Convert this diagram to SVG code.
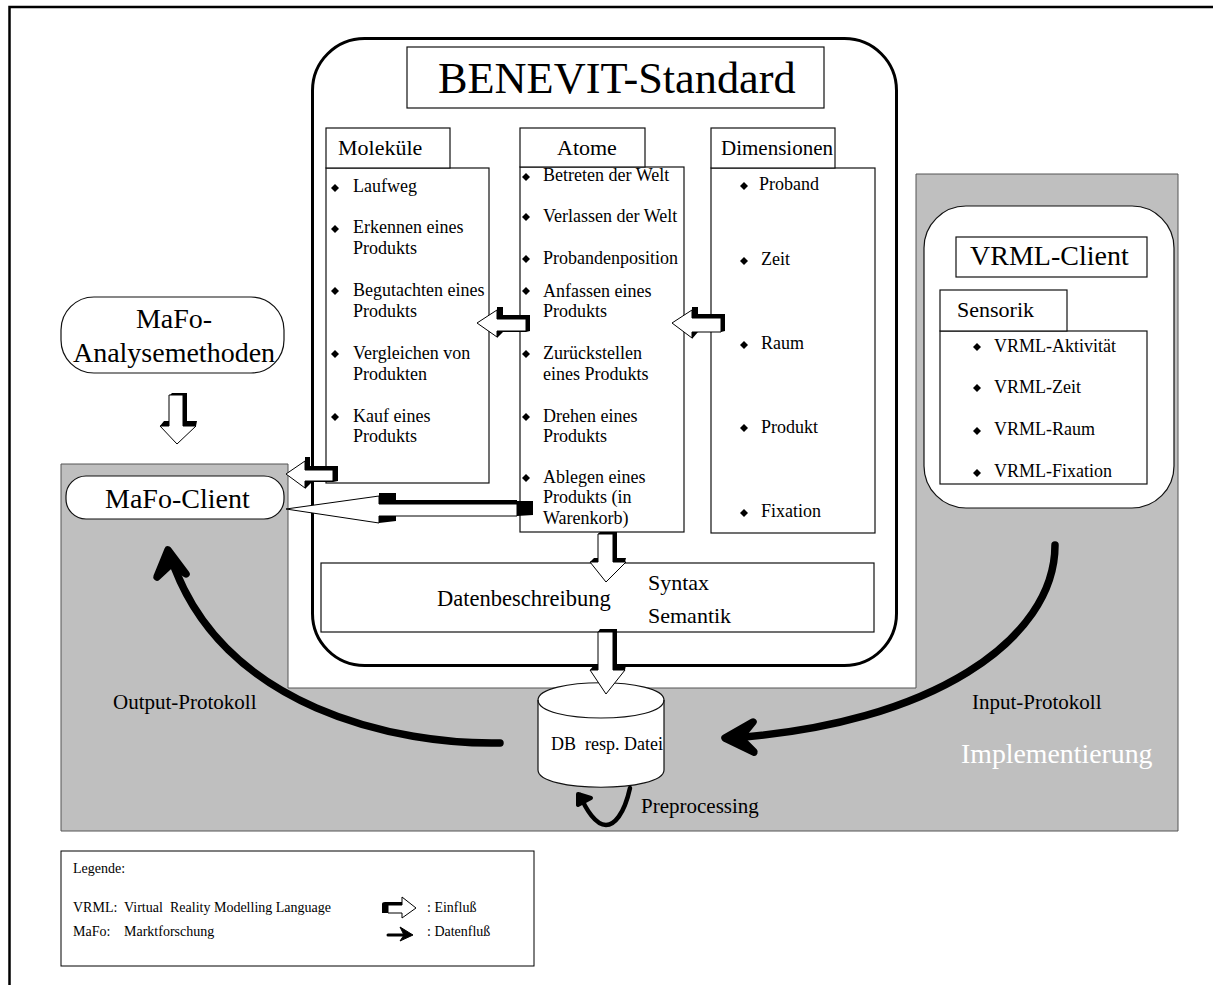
<svg xmlns="http://www.w3.org/2000/svg" width="1213" height="985" viewBox="0 0 1213 985">
<style>
text{font-family:"Liberation Serif","Times New Roman",serif;fill:#000}
.b{fill:#fff;stroke:#111;stroke-width:1.2}
.t18{font-size:18px}.t22{font-size:22px}.t28{font-size:28px}.t21{font-size:21px}.t14{font-size:14px}
.flow{fill:none;stroke:#000;stroke-linecap:round;stroke-linejoin:round}
.sh{fill:#000;stroke:none}
.ar{fill:#fff;stroke:#000;stroke-width:1}
</style>
<defs>
<path id="dm" d="M0-4L4 0L0 4L-4 0Z"/>
</defs>
<rect width="1213" height="985" fill="#fff"/>
<path id="frame" d="M9.500 985V7H1213" fill="none" stroke="#000" stroke-width="2.500"/>
<path id="gray" d="M61 464H288V688H916V174H1178V831H61Z" fill="#bfbfbf" stroke="#555" stroke-width="1"/>
<g id="benevit"><rect x="312.500" y="38.500" width="584" height="627" rx="52" fill="#fff" stroke="#000" stroke-width="3"/></g>
<g id="title"><rect class="b" x="407" y="47" width="417" height="61"/><text x="438" y="93" font-size="44.300">BENEVIT-Standard</text></g>
<g id="molekuele">
<rect class="b" x="326" y="168" width="163" height="315"/><rect class="b" x="326" y="128" width="124" height="40"/>
<text class="t22" x="338" y="155">Moleküle</text>
<g class="t18">
<use href="#dm" x="335" y="188"/><text x="353" y="192">Laufweg</text>
<use href="#dm" x="335" y="229"/><text x="353" y="233">Erkennen eines</text><text x="353" y="254">Produkts</text>
<use href="#dm" x="335" y="291"/><text x="353" y="296">Begutachten eines</text><text x="353" y="317">Produkts</text>
<use href="#dm" x="335" y="354"/><text x="353" y="359">Vergleichen von</text><text x="353" y="380">Produkten</text>
<use href="#dm" x="335" y="417"/><text x="353" y="422">Kauf eines</text><text x="353" y="442">Produkts</text>
</g></g>
<g id="atome">
<rect class="b" x="520" y="167" width="164" height="365"/><rect class="b" x="520" y="128" width="125" height="39"/>
<text class="t22" x="557" y="155">Atome</text>
<g class="t18">
<use href="#dm" x="526" y="177"/><text x="543" y="181">Betreten der Welt</text>
<use href="#dm" x="526" y="217"/><text x="543" y="222">Verlassen der Welt</text>
<use href="#dm" x="526" y="259"/><text x="543" y="264">Probandenposition</text>
<use href="#dm" x="526" y="291"/><text x="543" y="297">Anfassen eines</text><text x="543" y="317">Produkts</text>
<use href="#dm" x="526" y="354"/><text x="543" y="359">Zurückstellen</text><text x="543" y="380">eines Produkts</text>
<use href="#dm" x="526" y="417"/><text x="543" y="422">Drehen eines</text><text x="543" y="442">Produkts</text>
<use href="#dm" x="526" y="478"/><text x="543" y="483">Ablegen eines</text><text x="543" y="503">Produkts (in</text><text x="543" y="524">Warenkorb)</text>
</g></g>
<g id="dimensionen">
<rect class="b" x="711" y="168" width="164" height="365"/><rect class="b" x="711" y="128" width="124" height="40"/>
<text x="721" y="155" class="t21">Dimensionen</text>
<g class="t18">
<use href="#dm" x="744" y="186"/><text x="759" y="190">Proband</text>
<use href="#dm" x="744" y="261"/><text x="761" y="265">Zeit</text>
<use href="#dm" x="744" y="345"/><text x="761" y="349">Raum</text>
<use href="#dm" x="744" y="428"/><text x="761" y="433">Produkt</text>
<use href="#dm" x="744" y="513"/><text x="761" y="517">Fixation</text>
</g></g>
<g id="daten">
<rect class="b" x="321" y="563" width="553" height="69"/>
<text x="437" y="606" style="font-size:22.500px">Datenbeschreibung</text>
<text x="648" y="590" class="t22">Syntax</text><text x="648" y="623" class="t22">Semantik</text>
</g>
<g id="vrml">
<rect class="b" x="924" y="206" width="250" height="302" rx="42"/>
<rect class="b" x="956" y="237" width="191" height="40"/>
<text x="970" y="265" class="t28">VRML-Client</text>
<rect class="b" x="940" y="331" width="207" height="153"/><rect class="b" x="940" y="290" width="127" height="41"/>
<text x="957" y="317" class="t22">Sensorik</text>
<g class="t18">
<use href="#dm" x="977" y="347"/><text x="994" y="352">VRML-Aktivität</text>
<use href="#dm" x="977" y="388"/><text x="994" y="393">VRML-Zeit</text>
<use href="#dm" x="977" y="431"/><text x="994" y="435">VRML-Raum</text>
<use href="#dm" x="977" y="473"/><text x="994" y="477">VRML-Fixation</text>
</g></g>
<g id="analyse"><rect class="b" x="61" y="297" width="223" height="76" rx="33"/>
<text x="174" y="328" text-anchor="middle" class="t28">MaFo-</text><text x="174" y="362" text-anchor="middle" class="t28">Analysemethoden</text></g>
<g id="client"><rect class="b" x="66" y="476" width="218" height="43" rx="20"/><text x="105" y="508" class="t28">MaFo-Client</text></g>
<g id="db">
<path class="b" d="M538 700C538 677 664 677 664 700V770C664 793 538 793 538 770Z"/>
<path class="b" style="fill:none" d="M538 700C538 724 664 724 664 700"/>
<text x="551" y="750" class="t18" xml:space="preserve">DB  resp. Datei</text></g>
<g id="connectors">
<!-- Influence arrows -->
<path class="sh" d="M497 310V307H503V315H530V331L526 332H503L497 338V332H497Z"/>
<path class="ar" d="M477 323L497 310V319H526V331H497V337Z"/>
<path class="sh" d="M692 310V307H698V314H725V331L721 332H698L692 339V332Z"/>
<path class="ar" d="M672 323L692 310V318H721V332H692V338Z"/>
<path class="sh" d="M305 460V457H310V466H338V481L333 482H312L305 489V482Z"/>
<path class="ar" d="M286 474L305 461V470H333V481H305V488Z"/>
<path class="sh" d="M379 497V493H396V500H517V501H533V515L517 516H396V521L379 523V516Z"/>
<path class="ar" d="M286 509L379 496V504H517V516H379V523Z"/>
<!-- Down arrows -->
<path class="sh" d="M172 393H187V421H197L196 426H160L164 421H169V396Z"/>
<path class="ar" d="M177 444L160 426H169V395H183V426H196Z"/>
<path class="sh" d="M600 532H617V558H626L625 562H590L594 558H598V534Z"/>
<path class="ar" d="M606 582L590 562H598V534H613V562H626Z"/>
<path class="sh" d="M600 629H617V665H626L625 670H590L594 665H598V632Z"/>
<path class="ar" d="M606 694L590 670H598V632H613V670H625Z"/>
<!-- Data flow arrows -->
<path class="flow" stroke-width="7.500" d="M500 743C400 745 220 710 170 555"/>
<path class="flow" stroke-width="7.500" style="fill:#000" d="M157 577L168 550L186 574L171 564Z"/>
<path class="flow" stroke-width="7.500" d="M1055 545C1055 640 930 725 730 738"/>
<path class="flow" stroke-width="7.500" style="fill:#000" d="M753 722L725 738L754 752L740 738Z"/>
<path class="flow" stroke-width="4.500" d="M630 788C624 815 614 825 606 825C596 825 586 810 580 795"/>
<path class="flow" stroke-width="4" style="fill:#000" d="M578 805L578 794L591 798Z"/>
</g>
<g id="labels">
<text class="t21" x="113" y="709">Output-Protokoll</text>
<text class="t21" x="972" y="709">Input-Protokoll</text>
<text x="961" y="763" style="font-size:27.800px;fill:#fff">Implementierung</text>
<text class="t21" x="641" y="813">Preprocessing</text>
</g>
<g id="legende">
<rect x="61" y="851" width="473" height="115" fill="#fff" stroke="#000" stroke-width="1"/>
<g class="t14"><text x="73" y="873">Legende:</text>
<text x="73" y="912">VRML:</text><text x="124" y="912">Virtual</text><text x="170" y="912">Reality Modelling Language</text>
<text x="73" y="936">MaFo:</text><text x="124" y="936">Marktforschung</text>
<text x="427" y="912">: Einfluß</text><text x="427" y="936">: Datenfluß</text></g>
<path class="sh" d="M382 913V904Q382 902 385 902H402V897L408 902V906H388V913Z"/>
<path class="ar" d="M416 908L402 897V905H388V913H402V918Z"/>
<path class="flow" stroke-width="3" d="M388 935H408"/>
<path d="M413 935L400 927L404 935L400 941Z" fill="#000" stroke="#000" stroke-width="1"/>
</g>
</svg>
